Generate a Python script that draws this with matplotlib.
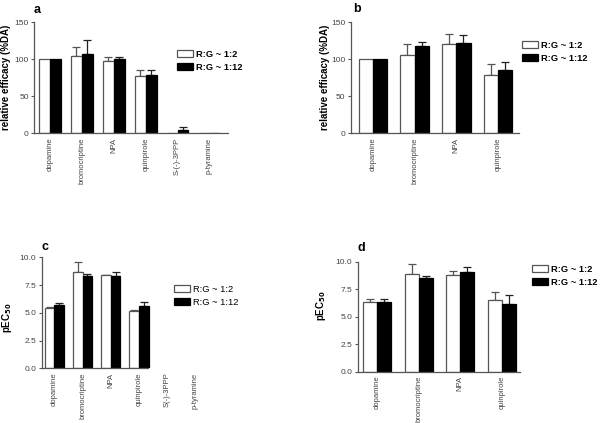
import numpy as np
import matplotlib
matplotlib.use("Agg")
import matplotlib.pyplot as plt
from matplotlib.patches import Patch

plt.rcParams["font.family"] = ["Liberation Sans", "DejaVu Sans"]

series_names = ["R:G ~ 1:2", "R:G ~ 1:12"]

# panel a: relative efficacy, 6 ligands
cats_a = ["dopamine", "bromocriptine", "NPA", "quinpirole", "S-(-)-3PPP", "p-tyramine"]
white_a = [100, 105, 98, 77, 0, 0]
white_a_err = [0, 11.6, 5.5, 9, 0, 0]
black_a = [100, 107, 100, 79, 4, 0]
black_a_err = [0, 19, 3.5, 7, 4, 0]

# panel b: relative efficacy, 4 ligands
cats_b = ["dopamine", "bromocriptine", "NPA", "quinpirole"]
white_b = [100, 106, 121, 79]
white_b_err = [0, 14, 13, 14]
black_b = [100, 118, 122, 85]
black_b_err = [0, 5, 11, 12]

# panel c: pEC50, 6 ligands (last two not determined)
cats_c = ["dopamine", "bromocriptine", "NPA", "quinpirole", "S(-)-3PPP", "p-tyramine"]
white_c = [5.43, 8.68, 8.40, 5.16, np.nan, np.nan]
white_c_err = [0.05, 0.92, 0.05, 0.06, 0, 0]
black_c = [5.73, 8.35, 8.35, 5.61, np.nan, np.nan]
black_c_err = [0.15, 0.15, 0.30, 0.39, 0, 0]

# panel d: pEC50, 4 ligands
cats_d = ["dopamine", "bromocriptine", "NPA", "quinpirole"]
white_d = [6.38, 8.85, 8.77, 6.55]
white_d_err = [0.25, 0.95, 0.40, 0.70]
black_d = [6.35, 8.55, 9.05, 6.20]
black_d_err = [0.25, 0.15, 0.50, 0.75]

W, H = 600, 423
fig = plt.figure(figsize=(6.0, 4.23), dpi=100)

GRAY = "#555555"
TICK = "#444444"
bw = 0.34


def px_axes(left, top, right, bottom):
    return fig.add_axes([left / W, 1 - bottom / H, (right - left) / W, (bottom - top) / H])


def draw_panel(ax, cats, wv, we, bv, be, ylim, yticks, yfmt, xlim, spine_end,
               ylabel, label_xy, letter, letter_xy, legend_xy, legend_bold=True):
    x = np.arange(len(cats))
    wv = np.array(wv, dtype=float)
    bv = np.array(bv, dtype=float)
    ax.bar(x - bw / 2, wv, width=bw, color="white", edgecolor=GRAY, linewidth=0.9, zorder=2)
    ax.bar(x + bw / 2, bv, width=bw, color="black", edgecolor="black", linewidth=0.9, zorder=2)
    we = np.array(we, dtype=float)
    be = np.array(be, dtype=float)
    mw = (we > 0) & ~np.isnan(wv)
    mb = (be > 0) & ~np.isnan(bv)
    ax.errorbar((x - bw / 2)[mw], wv[mw], yerr=[np.zeros(mw.sum()), we[mw]],
                fmt="none", ecolor=GRAY, elinewidth=0.9, capsize=3, capthick=0.9, zorder=1)
    ax.errorbar((x + bw / 2)[mb], bv[mb], yerr=[np.zeros(mb.sum()), be[mb]],
                fmt="none", ecolor="#222222", elinewidth=0.9, capsize=3, capthick=0.9, zorder=1)

    ax.set_xlim(*xlim)
    ax.set_ylim(*ylim)
    ax.set_yticks(yticks)
    ax.set_yticklabels([yfmt.format(t) for t in yticks], fontsize=6, color=TICK)
    ax.set_xticks(x)
    ax.set_xticklabels(cats, rotation=90, fontsize=5.5, color=TICK)
    ax.tick_params(axis="x", length=0, pad=3)
    ax.tick_params(axis="y", length=2.5, width=0.8, color=GRAY, pad=1.5)
    for s in ["top", "right"]:
        ax.spines[s].set_visible(False)
    for s in ["left", "bottom"]:
        ax.spines[s].set_color(GRAY)
        ax.spines[s].set_linewidth(0.9)
    ax.spines["bottom"].set_bounds(xlim[0], spine_end)
    ax.set_ylabel(ylabel, fontsize=7, fontweight="bold")
    ax.yaxis.set_label_coords(*label_xy)

    fig.text(letter_xy[0] / W, 1 - letter_xy[1] / H, letter, fontsize=9,
             fontweight="bold", va="center", ha="left")

    handles = [Patch(facecolor="white", edgecolor=GRAY, linewidth=0.9),
               Patch(facecolor="black", edgecolor="black", linewidth=0.9)]
    ax.legend(handles, series_names, loc="upper left",
              bbox_to_anchor=(legend_xy[0] / W, 1 - legend_xy[1] / H),
              bbox_transform=fig.transFigure, frameon=False,
              prop={"size": 6.7, "weight": "bold" if legend_bold else "normal"},
              handlelength=1.7, handleheight=0.75, handletextpad=0.3,
              labelspacing=0.38, borderpad=0, borderaxespad=0)


ax_a = px_axes(34.3, 22.3, 227.7, 133.3)
draw_panel(ax_a, cats_a, white_a, white_a_err, black_a, black_a_err,
           (0, 150), [0, 50, 100, 150], "{:.0f}", (-0.49, 5.57), 5.57,
           "relative efficacy (%DA)", (-0.118, 0.5), "a", (34, 10), (177, 50))

ax_b = px_axes(351, 22.3, 519, 133.3)
draw_panel(ax_b, cats_b, white_b, white_b_err, black_b, black_b_err,
           (0, 150), [0, 50, 100, 150], "{:.0f}", (-0.52, 3.5), 3.5,
           "relative efficacy (%DA)", (-0.125, 0.5), "b", (353, 9), (522, 41))

ax_c = px_axes(42, 257.3, 209.4, 368.3)
draw_panel(ax_c, cats_c, white_c, white_c_err, black_c, black_c_err,
           (0, 10), [0, 2.5, 5.0, 7.5, 10.0], "{:.1f}", (-0.44, 5.5), 3.32,
           r"pEC$_{\mathbf{50}}$", (-0.165, 0.46), "c", (41, 247), (174, 285),
           legend_bold=False)

ax_d = px_axes(358, 261.7, 520, 371.7)
draw_panel(ax_d, cats_d, white_d, white_d_err, black_d, black_d_err,
           (0, 10), [0, 2.5, 5.0, 7.5, 10.0], "{:.1f}", (-0.465, 3.44), 3.44,
           r"pEC$_{\mathbf{50}}$", (-0.185, 0.6), "d", (357, 248), (532, 265))

fig.savefig("out.png", dpi=100)
